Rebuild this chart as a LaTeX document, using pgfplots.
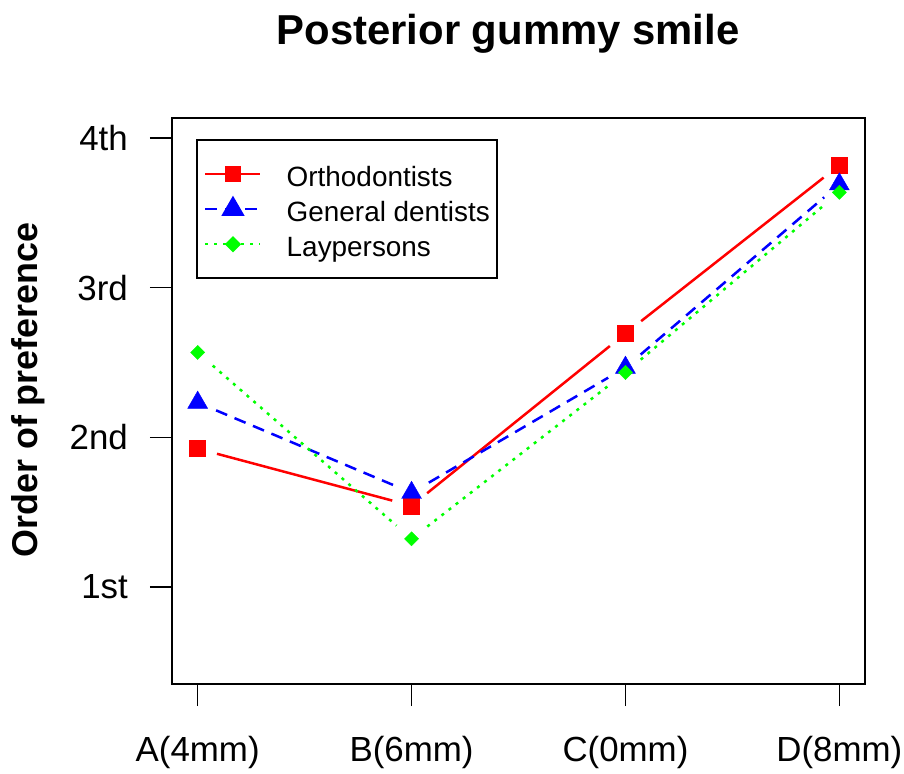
\documentclass[border=0pt]{standalone}
\usepackage{pgfplots}
\pgfplotsset{compat=1.18}
\usepackage{fontspec}
\setmainfont{Liberation Sans}
\definecolor{rred}{RGB}{255,0,0}
\definecolor{rblue}{RGB}{0,0,255}
\definecolor{rgreen}{RGB}{0,255,0}
\begin{document}
\begin{tikzpicture}
\useasboundingbox (-172bp,-90bp) rectangle (732bp,684bp);
\begin{axis}[
  at={(0,0)}, anchor=south west,
  scale only axis, width=693bp, height=566bp,
  xmin=0.88, xmax=4.12, ymin=0.35, ymax=4.135,
  xtick={1,2,3,4}, xticklabels={A(4mm),B(6mm),C(0mm),D(8mm)},
  ytick={1,2,3,4}, yticklabels={1st,2nd,3rd,4th},
  tick pos=left, tick align=outside, major tick length=22bp,
  every tick/.style={black, line width=1.5bp},
  axis line style={line width=2.5bp},
  ticklabel style={font=\fontsize{35}{42}\selectfont},
  yticklabel style={anchor=east, inner sep=0pt, xshift=-22bp},
  xticklabel style={anchor=north, inner sep=0pt, yshift=-30bp},
  legend image code/.code={\draw[mark repeat=2,mark phase=2,#1] plot coordinates {(0bp,0bp) (27.5bp,0bp) (55bp,0bp)};},
  legend style={at={(rel axis cs:0.0346,0.963)}, anchor=north west, draw=black, line width=2.5bp,
    font=\fontsize{28}{34}\selectfont, inner xsep=7bp, inner ysep=16.5bp,
    nodes={inner sep=0bp, text height=29.5bp, text depth=5.5bp}, row sep=0bp, column sep=25bp},
  legend cell align=left,
]
\addlegendimage{rred, solid, line width=2.5bp, mark=square*, mark size=6.5bp, mark options={solid}}
\addlegendentry{Orthodontists}
\addlegendimage{rblue, dash pattern=on 12bp off 8bp, line width=2.5bp, mark=triangle*, mark size=11bp, mark options={solid}}
\addlegendentry{General dentists\hspace{9bp}}
\addlegendimage{rgreen, dash pattern=on 3bp off 6bp, line width=2.5bp, mark=square*, mark size=4.5bp, mark options={solid, rotate=45}}
\addlegendentry{Laypersons}

% Orthodontists
\addplot[forget plot, rred, line width=2.5bp, shorten <=20bp, shorten >=20bp] coordinates {(1,1.924) (2,1.542)};
\addplot[forget plot, rred, line width=2.5bp, shorten <=20bp, shorten >=20bp] coordinates {(2,1.542) (3,2.694)};
\addplot[forget plot, rred, line width=2.5bp, shorten <=20bp, shorten >=20bp] coordinates {(3,2.694) (4,3.819)};
\addplot[forget plot, rred, only marks, mark=square*, mark size=8bp] coordinates {(1,1.924) (2,1.542) (3,2.694) (4,3.819)};
% General dentists
\addplot[forget plot, rblue, line width=2.5bp, dash pattern=on 12bp off 8bp, shorten <=20bp, shorten >=20bp] coordinates {(1,2.232) (2,1.629)};
\addplot[forget plot, rblue, line width=2.5bp, dash pattern=on 12bp off 8bp, shorten <=20bp, shorten >=20bp] coordinates {(2,1.629) (3,2.466)};
\addplot[forget plot, rblue, line width=2.5bp, dash pattern=on 12bp off 8bp, shorten <=20bp, shorten >=20bp] coordinates {(3,2.466) (4,3.692)};
\addplot[forget plot, rblue, only marks, mark=triangle*, mark size=11.5bp] coordinates {(1,2.232) (2,1.629) (3,2.466) (4,3.692)};
% Laypersons
\addplot[forget plot, rgreen, line width=2.5bp, dash pattern=on 3bp off 6bp, shorten <=20bp, shorten >=20bp] coordinates {(1,2.567) (2,1.321)};
\addplot[forget plot, rgreen, line width=2.5bp, dash pattern=on 3bp off 6bp, shorten <=20bp, shorten >=20bp] coordinates {(2,1.321) (3,2.433)};
\addplot[forget plot, rgreen, line width=2.5bp, dash pattern=on 3bp off 6bp, shorten <=20bp, shorten >=20bp] coordinates {(3,2.433) (4,3.638)};
\addplot[forget plot, rgreen, only marks, mark=square*, mark size=5bp, mark options={rotate=45}] coordinates {(1,2.567) (2,1.321) (3,2.433) (4,3.638)};
\end{axis}
\node[anchor=base, font=\bfseries\fontsize{42}{50}\selectfont, inner sep=0pt] at (336bp,729bp-90bp) {Posterior gummy smile};
\node[rotate=90, font=\bfseries\fontsize{36}{43}\selectfont, inner sep=0pt] at (-144bp,294bp) {Order of preference};
\end{tikzpicture}
\end{document}
